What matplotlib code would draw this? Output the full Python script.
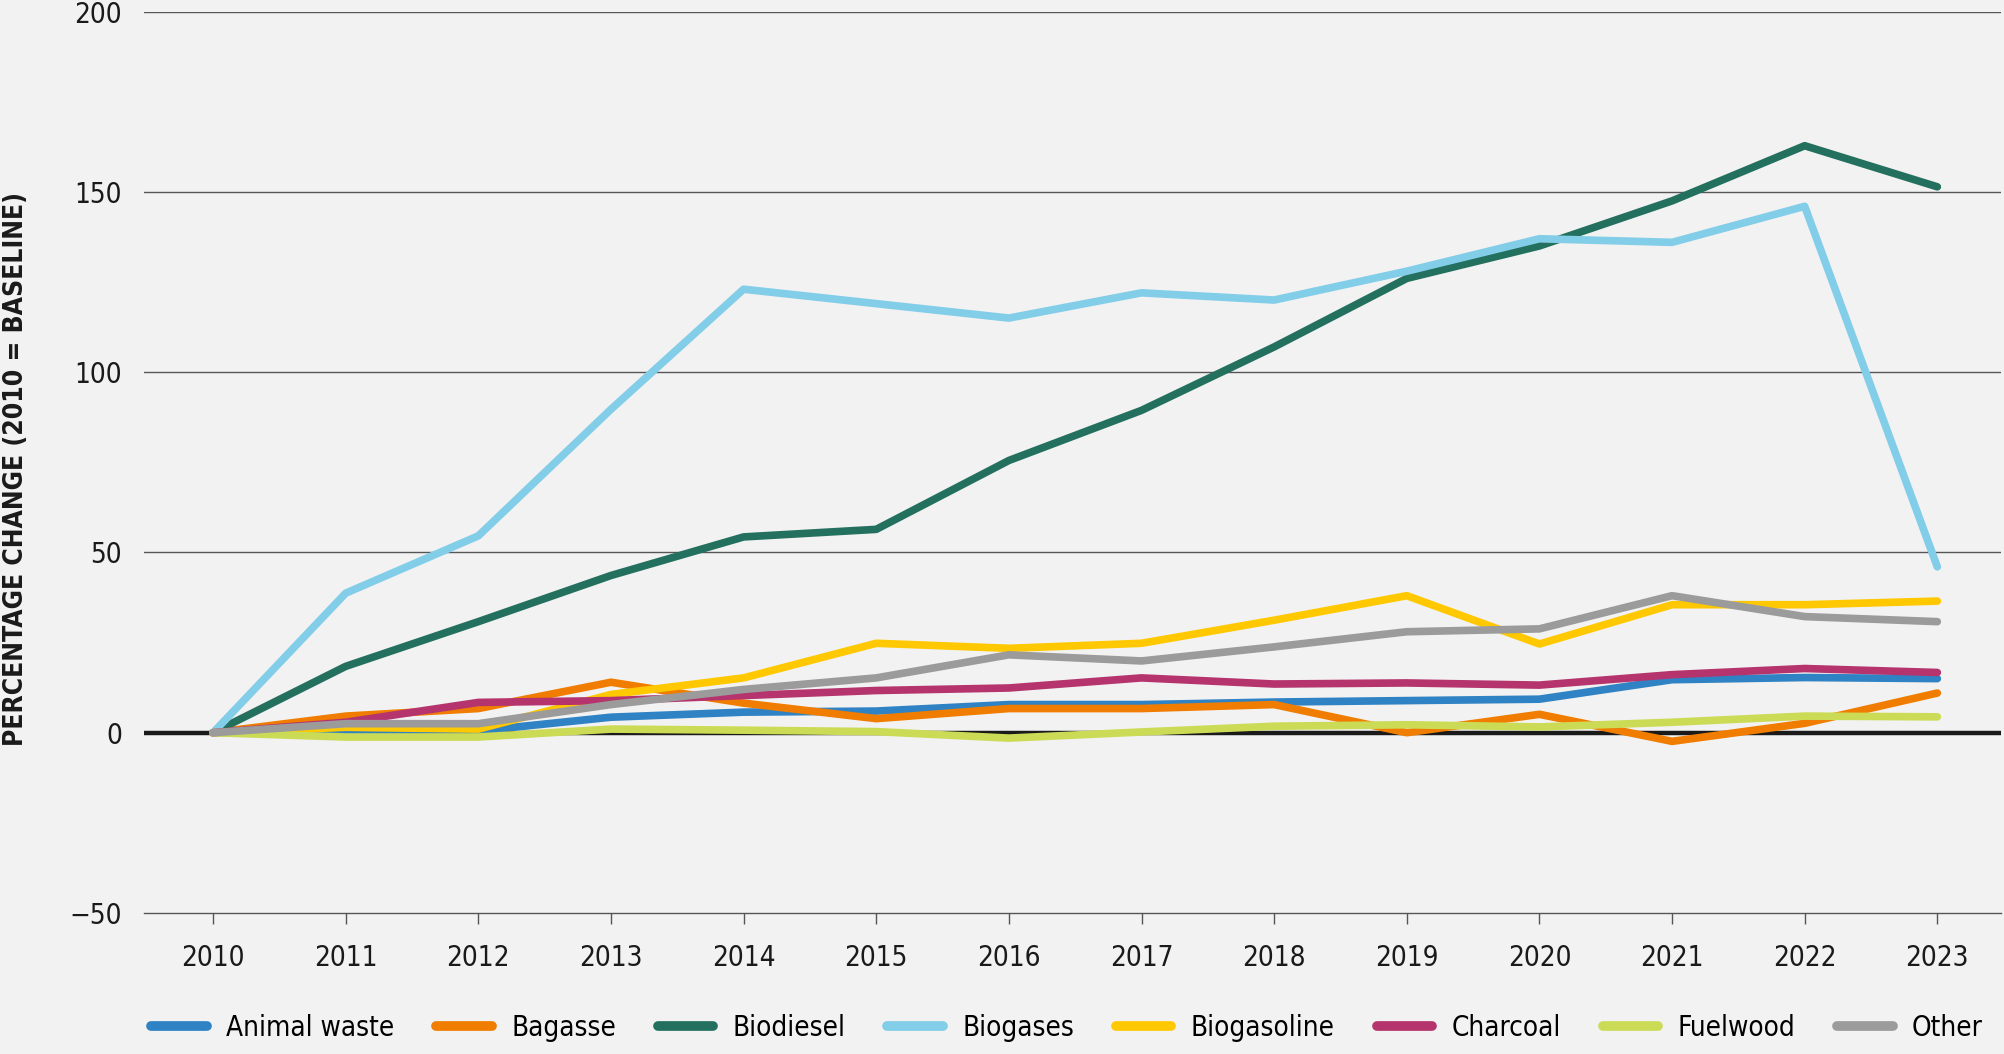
import matplotlib
matplotlib.use("Agg")
import matplotlib.pyplot as plt
from matplotlib import font_manager
from matplotlib.lines import Line2D

# pick a condensed face if one is installed
cands = [f.name for f in font_manager.fontManager.ttflist
         if 'condensed' in f.fname.lower() or 'narrow' in f.name.lower()]
fam = 'DejaVu Sans'
for n in ['Liberation Sans Narrow', 'DejaVu Sans Condensed', 'DejaVu Sans']:
    if n in cands:
        fam = n
        break
plt.rcParams['font.family'] = [fam, 'DejaVu Sans']
plt.rcParams['font.stretch'] = 'condensed'

years = list(range(2010, 2024))

animal_waste = [0, 0.5, 0.5, 4.3, 5.7, 6.0, 7.8, 7.8, 8.5, 8.9, 9.3, 14.7, 15.3, 15.0]
bagasse = [0, 4.6, 6.7, 14.0, 8.2, 3.9, 6.7, 6.7, 7.8, 0, 5.1, -2.4, 2.6, 11.0]
biodiesel = [0, 18.4, 30.8, 43.6, 54.3, 56.4, 75.5, 89.4, 107, 126, 135, 147.5, 162.8, 151.4]
biogases = [0, 38.7, 54.6, 89.7, 123, 119, 115, 122, 120, 128, 137, 136, 146, 46]
biogasoline = [0, 1.5, 1.0, 10.6, 15.2, 24.8, 23.4, 24.8, 31.2, 38, 24.6, 35.5, 35.5, 36.5]
charcoal = [0, 2.9, 8.4, 8.9, 10.3, 11.7, 12.4, 15.2, 13.5, 13.8, 13.2, 16.1, 17.8, 16.7]
fuelwood = [0, -1.2, -1.2, 1.0, 0.7, 0.3, -1.5, 0.2, 1.8, 2.2, 1.6, 2.9, 4.6, 4.4]
other = [0, 2.5, 2.5, 7.8, 12.0, 15.2, 21.6, 19.9, 23.8, 28, 28.8, 38, 32.2, 30.8]

names = ['Animal waste', 'Bagasse', 'Biodiesel', 'Biogases', 'Biogasoline',
         'Charcoal', 'Fuelwood', 'Other']
series = [animal_waste, bagasse, biodiesel, biogases, biogasoline,
          charcoal, fuelwood, other]
colors = ['#2F82C3', '#F07D00', '#24705F', '#82CDE8', '#FFC800',
          '#B5346E', '#CCDB55', '#9B9B9B']

bg = '#F2F2F2'
fig = plt.figure(figsize=(20.04, 10.54), dpi=100, facecolor=bg)
ax = fig.add_axes([0.0719, 0.1338, 0.9266, 0.8552], facecolor=bg)

for y in [50, 100, 150, 200]:
    ax.axhline(y, color='#555555', lw=1.0, zorder=1)
ax.axhline(0, color='#1a1a1a', lw=3.2, zorder=2)

for name, vals, c in zip(names, series, colors):
    ax.plot(years, vals, color=c, lw=5.5, solid_capstyle='round',
            solid_joinstyle='round', label=name, zorder=3)

ax.set_xlim(2009.48, 2023.48)
ax.set_ylim(-50, 200)
ax.set_xticks(years)
ax.set_xticklabels([str(y) for y in years])
ax.set_yticks([-50, 0, 50, 100, 150, 200])
ax.set_yticklabels(['\u221250', '0', '50', '100', '150', '200'])

for s in ['top', 'right', 'left']:
    ax.spines[s].set_visible(False)
ax.spines['bottom'].set_color('#555555')
ax.spines['bottom'].set_linewidth(1.0)
ax.tick_params(axis='x', length=8, width=1, color='#555555', labelsize=20,
               pad=14, labelcolor='#1a1a1a')
ax.tick_params(axis='y', length=0, labelsize=20, pad=16, labelcolor='#1a1a1a')

fig.text(0.008, 0.555, 'PERCENTAGE CHANGE (2010 = BASELINE)', rotation=90,
         ha='center', va='center', fontsize=19, fontweight='bold', color='#1a1a1a')

handles = [Line2D([0], [0], color=c, lw=7, solid_capstyle='round') for c in colors]
leg = fig.legend(handles, names, loc='lower left', bbox_to_anchor=(0.063, -0.012),
                 ncol=8, frameon=False, fontsize=20, handlelength=2.0,
                 handletextpad=0.7, columnspacing=1.5)

fig.savefig('out.png', dpi=100, facecolor=bg)
